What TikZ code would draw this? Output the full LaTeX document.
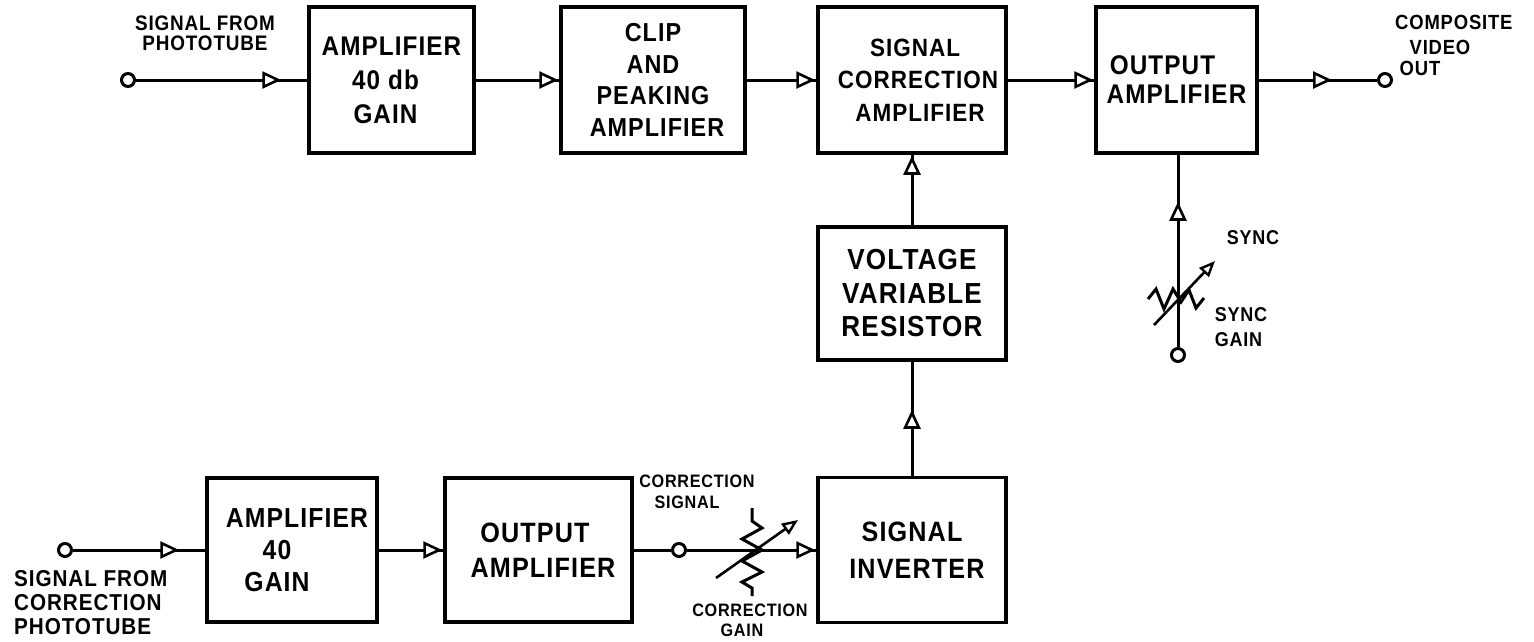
\documentclass[tikz,border=0pt]{standalone}
\usepackage{fontspec}
\setmainfont{Liberation Sans}[LetterSpace=4,FakeStretch=0.9]
\usetikzlibrary{arrows.meta,decorations.markings}
\newcommand{\fs}[2]{\bfseries\fontsize{#1}{#2}\selectfont}
\tikzset{
  oTri/.tip={Triangle[fill=white,length=19pt,width=17pt,line width=2.6pt]},
  potTip/.tip={Triangle[fill=white,length=16pt,width=13pt,line width=2.4pt]},
  blk/.style={draw,line width=3.5pt,inner sep=0pt,align=center},
  term/.style={draw,circle,line width=3pt,minimum size=13pt,inner sep=0pt},
  conn/.style={line width=3pt},
  tipat/.style={postaction={decorate},decoration={markings,mark=at position #1 with {\arrow{oTri}}}},
  lbl/.style={inner sep=0pt,align=center,font=\fs{20.5}{21}},
  potline/.style={line width=3pt,line join=miter},
  potarrow/.style={line width=2.6pt,-potTip},
}
\begin{document}
\begin{tikzpicture}[x=1pt,y=-1pt]
\useasboundingbox (0,0) rectangle (1534,641);
% top row
\node[blk,minimum width=165pt,minimum height=146pt,font=\fs{27}{34}] (a1) at (391.5,80) {AMPLIFIER\\\mbox{40 db\kern12pt}\\\mbox{GAIN\kern12pt}};
\node[blk,minimum width=184pt,minimum height=146pt,font=\fs{26}{31.7}] (clip) at (653,80) {CLIP\\AND\\PEAKING\\\mbox{\kern8pt AMPLIFIER}};
\node[blk,minimum width=188pt,minimum height=146pt,font=\fs{25}{32.5}] (sca) at (912,80) {\mbox{\kern6pt SIGNAL}\\\mbox{\kern12pt CORRECTION}\\\mbox{\kern16pt AMPLIFIER}};
\node[blk,minimum width=161pt,minimum height=146pt,font=\fs{27}{29}] (out) at (1176.5,80) {\mbox{OUTPUT\kern28pt}\\AMPLIFIER};
\node[blk,minimum width=188pt,minimum height=133pt,font=\fs{29}{33.5}] (vvr) at (912,293.5) {VOLTAGE\\VARIABLE\\RESISTOR};
% bottom row
\node[blk,minimum width=188pt,minimum height=145pt,font=\fs{28}{37}] (si) at (912,550) {SIGNAL\\\mbox{\kern10pt INVERTER}};
\node[blk,minimum width=170pt,minimum height=144pt,font=\fs{27.5}{32}] (a2) at (292,550) {\mbox{\kern10pt AMPLIFIER}\\\mbox{40\kern30pt}\\\mbox{GAIN\kern30pt}};
\node[blk,minimum width=187pt,minimum height=144pt,font=\fs{28}{35}] (oa2) at (538.5,550) {\mbox{OUTPUT\kern7pt}\\\mbox{\kern9pt AMPLIFIER}};
% terminals
\node[term] (in1) at (128,80) {};
\node[term] (vout) at (1385,80) {};
\node[term] (in2) at (65,550) {};
\node[term] (csig) at (679,550) {};
\node[term] (sgc) at (1178,355) {};
% connectors
\draw[conn,tipat=-26pt] (in1) -- (a1);
\draw[conn,tipat=-1pt] (a1) -- (clip);
\draw[conn,tipat=-1pt] (clip) -- (sca);
\draw[conn,tipat=-1pt] (sca) -- (out);
\draw[conn,tipat=-45pt] (out) -- (vout);
\draw[conn,tipat=-1pt] (vvr) -- (sca);
\draw[conn,tipat=-48pt] (si) -- (vvr);
\draw[conn,tipat=-47pt] (sgc) -- (sgc |- out.south);
\draw[conn,tipat=-26pt] (in2) -- (a2);
\draw[conn,tipat=-1pt] (a2) -- (oa2);
\draw[conn] (oa2) -- (csig);
\draw[conn,tipat=-1pt] (csig) -- (si);
% sync gain potentiometer
\draw[potline] (1148,299) -- (1156,289) -- (1164,309) -- (1173,289) -- (1181,302) -- (1189,290) -- (1196,308) -- (1204,298);
\draw[potarrow] (1154,325) -- (1215,261);
% correction gain potentiometer
\draw[potline] (752,508) -- (752,521) -- (762,528) -- (742,539) -- (762,550) -- (742,561) -- (762,572) -- (742,582) -- (752,588) -- (752,596);
\draw[potarrow] (716,578) -- (798,520);
% labels
\node[lbl,font=\fs{21}{20}] (l1) at (205,33) {SIGNAL FROM\\PHOTOTUBE};
\node[lbl,align=left,anchor=north west,font=\fs{23}{24}] (l2) at (14,570) {SIGNAL FROM\\CORRECTION\\PHOTOTUBE};
\node[lbl,anchor=north west] (l3a) at (1395,15) {COMPOSITE};
\node[lbl] (l3b) at (1440,47) {VIDEO};
\node[lbl] (l3c) at (1420,68) {OUT};
\node[lbl,font=\fs{20}{21}] (l4) at (1253,238) {SYNC};
\node[lbl,align=left,font=\fs{20}{25}] (l5) at (1243,327) {\mbox{SYNC\kern4pt}\\GAIN};
\node[lbl,font=\fs{18}{21}] (l6) at (697,492) {CORRECTION\\\mbox{SIGNAL\kern20pt}};
\node[lbl,font=\fs{18}{20}] (l7) at (750,620) {CORRECTION\\\mbox{GAIN\kern16pt}};
\end{tikzpicture}
\end{document}
